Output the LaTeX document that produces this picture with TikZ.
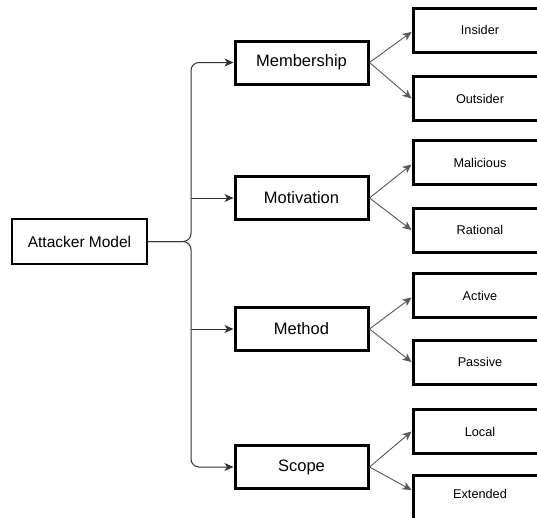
\documentclass[tikz,border=0pt]{standalone}
\usepackage{fontspec}
\setmainfont{Liberation Sans}
\usetikzlibrary{arrows.meta}

\begin{document}
\begin{tikzpicture}[x=1pt, y=-1pt,
  rootbox/.style={draw=black, line width=1.4pt, fill=white, minimum width=135pt,
    minimum height=45pt, inner sep=0pt, font=\fontsize{15.5}{18}\selectfont},
  catbox/.style={draw=black, line width=3pt, fill=white, minimum width=133pt,
    minimum height=43pt, inner sep=0pt, font=\fontsize{16.5}{19}\selectfont},
  leafbox/.style={draw=black, line width=3pt, fill=white, minimum width=134pt,
    minimum height=44pt, inner sep=0pt, font=\fontsize{12.7}{15}\selectfont},
  tip/.style={-{Stealth[length=9pt, width=8pt, inset=2.5pt]}},
  trunk/.style={tip, draw=black!80, line width=1pt, rounded corners=8pt},
  twig/.style={tip, draw=black!65, line width=0.9pt}
]
\useasboundingbox (0,0) rectangle (537,517);
\clip (0,0) rectangle (537,517);
\fill[white] (0,0) rectangle (537,517);

% root
\node[rootbox] (root) at (79.5,241.5) {Attacker Model};

% categories
\node[catbox] (mem) at (301.5,62.5) {Membership};
\node[catbox] (mot) at (301.5,198) {Motivation};
\node[catbox] (met) at (301.5,329) {Method};
\node[catbox] (sco) at (301.5,467) {Scope};

% leaves
\node[leafbox] (ins) at (480,30)    {Insider};
\node[leafbox] (out) at (480,98.5)  {Outsider};
\node[leafbox] (mal) at (480,162.5) {Malicious};
\node[leafbox] (rat) at (480,230)   {Rational};
\node[leafbox] (act) at (480,295.5) {Active};
\node[leafbox] (pas) at (480,362)   {Passive};
\node[leafbox] (loc) at (480,431.5) {Local};
\node[leafbox, minimum height=48pt] (ext) at (480,499) {\raisebox{11pt}{Extended}};

% branching point of the trunk and the T-junctions on it
\coordinate (fork) at (191,241.5);
\coordinate (motj) at (fork |- mot.west);
\coordinate (metj) at (fork |- met.west);

% trunk connectors
\draw[trunk] (root.east) -- (fork) |- (mem.west);
\draw[trunk] (root.east) -- (fork) |- (sco.west);
\draw[trunk] (motj) -- (mot.west);
\draw[trunk] (metj) -- (met.west);

% twig connectors
\draw[twig] (mem.east) -- ([yshift=-2pt]ins.west);
\draw[twig] (mem.east) -- (out.west);
\draw[twig] (mot.east) -- ([yshift=-2pt]mal.west);
\draw[twig] (mot.east) -- (rat.west);
\draw[twig] (met.east) -- ([yshift=-2pt]act.west);
\draw[twig] (met.east) -- (pas.west);
\draw[twig] (sco.east) -- (loc.west);
\draw[twig] (sco.east) -- ([yshift=9pt]ext.west);
\end{tikzpicture}
\end{document}
